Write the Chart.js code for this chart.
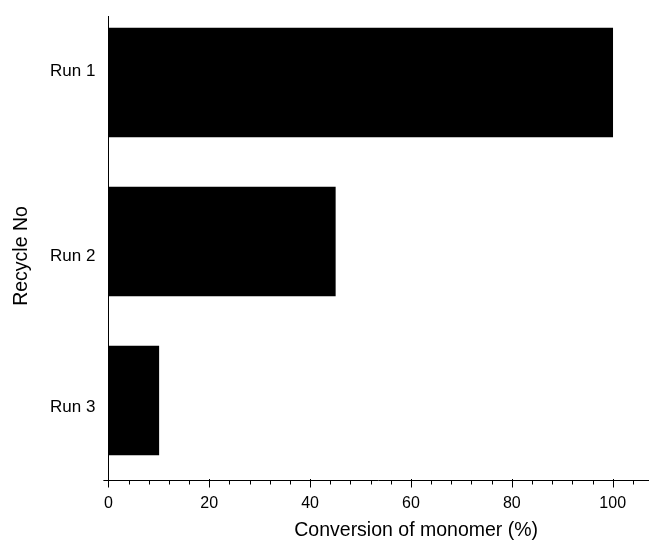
<!DOCTYPE html>
<html>
<head>
<meta charset="utf-8">
<script src="https://cdn.jsdelivr.net/npm/chart.js@4/dist/chart.umd.min.js"></script>
<style>
    html, body { margin: 0; padding: 0; background: #fff; }
    #wrap { width: 650px; height: 540px; }
</style>
</head>
<body>
<div id="wrap"><canvas id="recycleChart" width="650" height="540"></canvas></div>
<script>
// Chart data
var categories = ['Run 1', 'Run 2', 'Run 3'];
var conversion = [100, 45, 10];
var xTickLabels = [0, 20, 40, 60, 80, 100];
var xMinorStep = 4;
var xTitle = 'Conversion of monomer (%)';
var yTitle = 'Recycle No';

// the category labels in the original don't sit exactly on the bar centres
var yLabelNudge = [-0.068, 0.095, 0.046];

// Axis decorations: x tick marks and the two axis titles
var axisExtras = {
    id: 'axisExtras',
    afterDraw: function(chart) {
        var sc = chart.scales.x;
        var area = chart.chartArea;
        var ctx = chart.ctx;
        var y0 = Math.round(sc.top) + 0.5;
        ctx.save();
        ctx.strokeStyle = '#000';
        ctx.lineWidth = 1;
        // short stub of the x axis left of zero
        ctx.beginPath();
        ctx.moveTo(sc.left - 5, y0);
        ctx.lineTo(sc.left, y0);
        ctx.stroke();
        sc.ticks.forEach(function(t) {
            var px = Math.round(sc.getPixelForValue(t.value)) + 0.5;
            var major = xTickLabels.indexOf(t.value) !== -1;
            ctx.beginPath();
            ctx.moveTo(px, major ? y0 - 1.5 : y0);
            ctx.lineTo(px, y0 + (major ? 7 : 4));
            ctx.stroke();
        });

        ctx.fillStyle = '#000';
        ctx.font = '19.5px "Liberation Sans"';
        ctx.textAlign = 'center';
        ctx.textBaseline = 'alphabetic';
        ctx.fillText(xTitle, (area.left + area.right) / 2 + 38, chart.height - 4);

        ctx.translate(27, (area.top + area.bottom) / 2 + 8);
        ctx.rotate(-Math.PI / 2);
        ctx.fillText(yTitle, 0, 0);
        ctx.restore();
    }
};

document.addEventListener('DOMContentLoaded', function() {
    var ctx = document.getElementById('recycleChart').getContext('2d');

    var chart = new Chart(ctx, {
        type: 'bar',
        data: {
            datasets: [{
                data: conversion.map(function(v, i) { return { x: v, y: i }; }),
                backgroundColor: '#000',
                borderWidth: 0,
                barThickness: 109
            }]
        },
        options: {
            indexAxis: 'y',
            responsive: false,
            animation: false,
            layout: { padding: { top: 16, right: 2, left: 37, bottom: 12 } },
            plugins: {
                legend: { display: false },
                tooltip: { enabled: false }
            },
            scales: {
                x: {
                    type: 'linear',
                    min: 0,
                    max: 107,
                    offset: false,
                    grid: { display: false, drawTicks: false },
                    border: { display: true, color: '#000', width: 1 },
                    afterBuildTicks: function(scale) {
                        var t = [];
                        for (var v = 0; v <= 104; v += xMinorStep) t.push({ value: v });
                        scale.ticks = t;
                    },
                    ticks: {
                        autoSkip: false,
                        maxRotation: 0,
                        padding: 16,
                        color: '#000',
                        font: { family: 'Liberation Sans', size: 16, lineHeight: 1 },
                        callback: function(value) {
                            return xTickLabels.indexOf(value) !== -1 ? String(value) : '';
                        }
                    }
                },
                y: {
                    type: 'linear',
                    reverse: true,
                    min: -0.418,
                    max: 2.5,
                    offset: false,
                    grid: { display: false, drawTicks: false },
                    border: { display: true, color: '#000', width: 1 },
                    afterBuildTicks: function(scale) {
                        scale.ticks = categories.map(function(c, i) { return { value: i + yLabelNudge[i] }; });
                    },
                    afterFit: function(scale) {
                        scale.paddingTop = 0;
                        scale.paddingBottom = 0;
                    },
                    ticks: {
                        autoSkip: false,
                        padding: 13,
                        color: '#000',
                        font: { family: 'Liberation Sans', size: 17 },
                        callback: function(value) {
                            return categories[Math.round(value)] || '';
                        }
                    }
                }
            }
        },
        plugins: [axisExtras]
    });
});
</script>
</body>
</html>
